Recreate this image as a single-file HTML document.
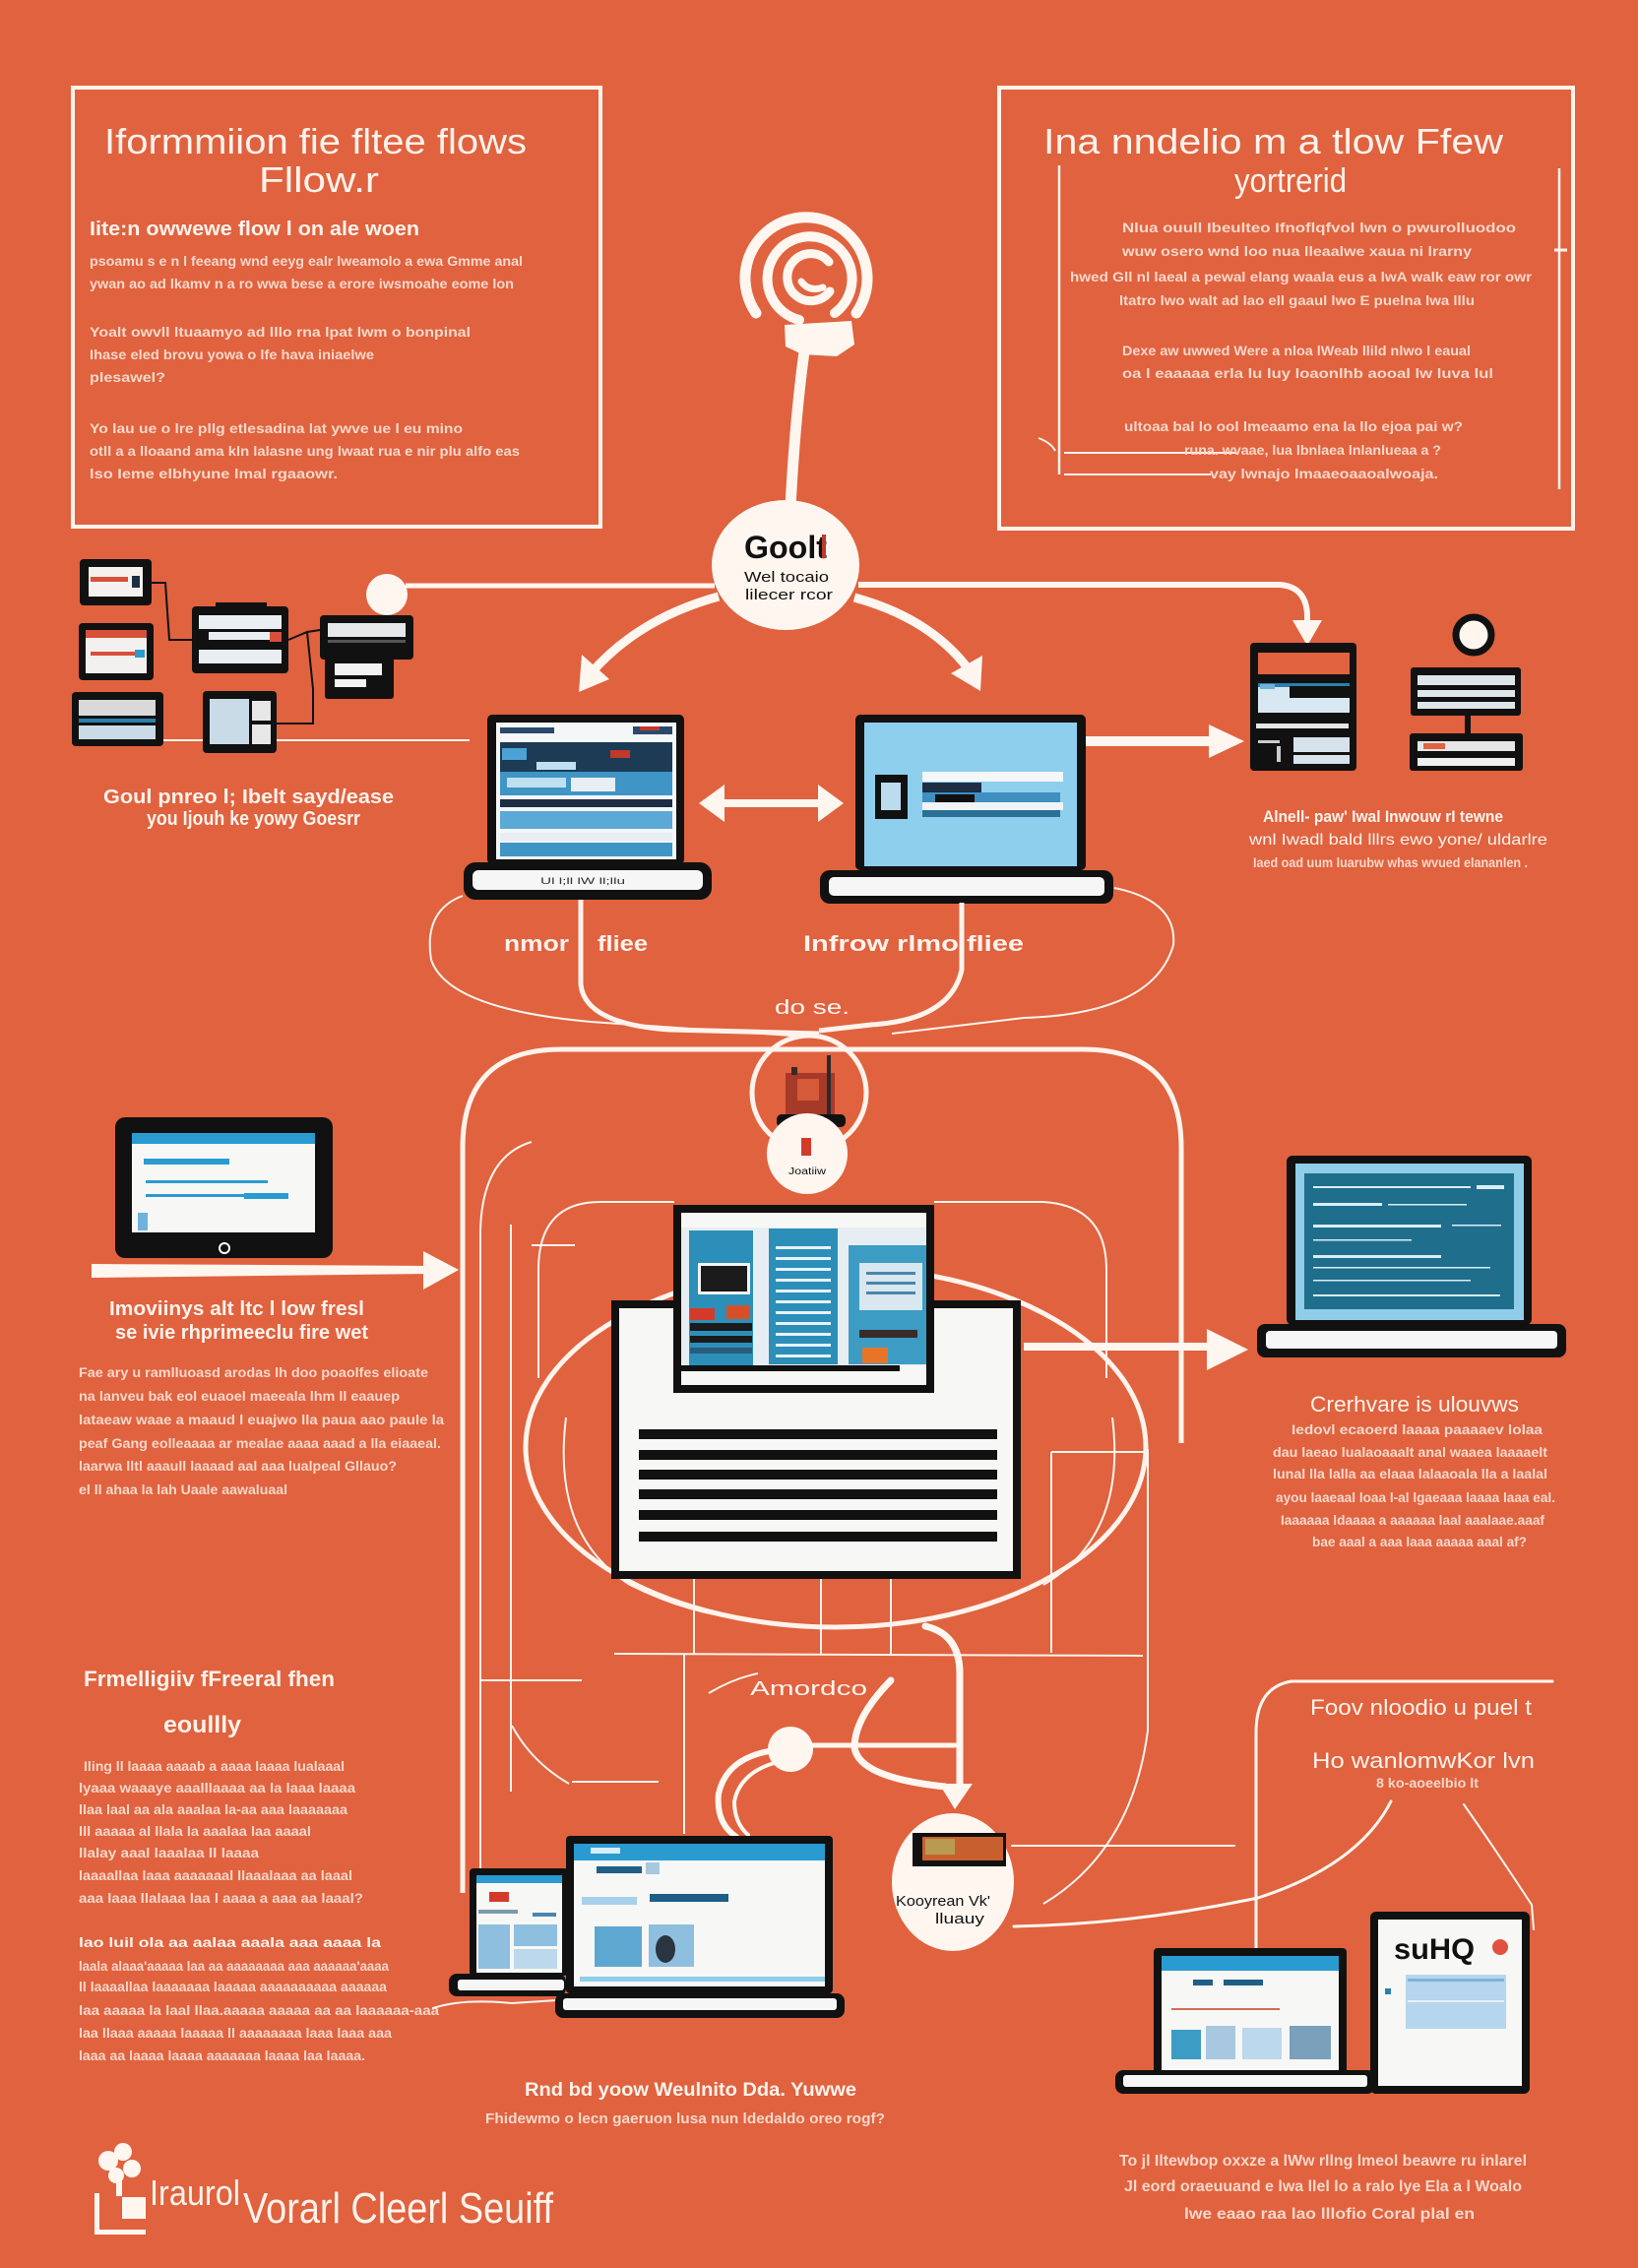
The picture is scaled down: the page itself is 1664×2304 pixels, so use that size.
<!DOCTYPE html>
<html><head><meta charset="utf-8"><style>
html,body{margin:0;padding:0;background:#E0623F;}
svg{display:block;}
text{font-family:"Liberation Sans",sans-serif;}
.t{fill:#FFF3EC;}
.p{fill:#F8D8CA;font-weight:bold;}
.k{fill:#111;}
</style></head><body>
<svg width="1664" height="2304" viewBox="0 0 1664 2304" xmlns="http://www.w3.org/2000/svg">
<rect x="0" y="0" width="1664" height="2304" fill="#E0623F"/>

<!-- ===== LEFT TOP BOX ===== -->
<rect x="74" y="89" width="536" height="446" fill="none" stroke="#FFF3EC" stroke-width="4"/>
<text class="t" x="106" y="156" font-size="36" textLength="429" lengthAdjust="spacingAndGlyphs">Iformmiion fie fltee flows</text>
<text class="t" x="263" y="195" font-size="36" textLength="122" lengthAdjust="spacingAndGlyphs">Fllow.r</text>
<text class="t" x="91" y="239" font-size="20" font-weight="bold" textLength="335" lengthAdjust="spacingAndGlyphs">Iite:n owwewe flow l on ale woen</text>
<text class="p" x="91" y="270" font-size="14" textLength="440" lengthAdjust="spacingAndGlyphs">psoamu s e n l feeang wnd eeyg ealr lweamolo a ewa Gmme anal</text>
<text class="p" x="91" y="293" font-size="14" textLength="431" lengthAdjust="spacingAndGlyphs">ywan ao ad lkamv n a ro wwa bese a erore iwsmoahe eome lon</text>
<text class="p" x="91" y="342" font-size="14" textLength="387" lengthAdjust="spacingAndGlyphs">Yoalt owvll ltuaamyo ad lllo rna lpat lwm o bonpinal</text>
<text class="p" x="91" y="365" font-size="14" textLength="289" lengthAdjust="spacingAndGlyphs">Ihase eled brovu yowa o lfe hava iniaelwe</text>
<text class="p" x="91" y="388" font-size="14" textLength="77" lengthAdjust="spacingAndGlyphs">plesawel?</text>
<text class="p" x="91" y="440" font-size="14" textLength="379" lengthAdjust="spacingAndGlyphs">Yo lau ue o lre pllg etlesadina lat ywve ue l eu mino</text>
<text class="p" x="91" y="463" font-size="14" textLength="437" lengthAdjust="spacingAndGlyphs">otll a a lloaand ama kln lalasne ung lwaat rua e nir plu alfo eas</text>
<text class="p" x="91" y="486" font-size="14" textLength="252" lengthAdjust="spacingAndGlyphs">lso Ieme elbhyune lmal rgaaowr.</text>

<!-- ===== RIGHT TOP BOX ===== -->
<rect x="1015" y="89" width="583" height="448" fill="none" stroke="#FFF3EC" stroke-width="4"/>
<text class="t" x="1060" y="156" font-size="36" textLength="467" lengthAdjust="spacingAndGlyphs">Ina nndelio m a tlow Ffew</text>
<text class="t" x="1254" y="195" font-size="34" textLength="114" lengthAdjust="spacingAndGlyphs">yortrerid</text>
<line x1="1076" y1="168" x2="1076" y2="482" stroke="#FFF3EC" stroke-width="2.5"/>
<line x1="1584" y1="171" x2="1584" y2="497" stroke="#FFF3EC" stroke-width="2.5"/>
<line x1="1579" y1="254" x2="1592" y2="254" stroke="#FFF3EC" stroke-width="3"/>
<line x1="1081" y1="460" x2="1256" y2="460" stroke="#FFF3EC" stroke-width="2"/>
<line x1="1081" y1="482" x2="1230" y2="482" stroke="#FFF3EC" stroke-width="2"/>
<path d="M1055 445 Q1068 450 1072 458" fill="none" stroke="#FFF3EC" stroke-width="2"/>
<text class="p" x="1140" y="236" font-size="14" textLength="400" lengthAdjust="spacingAndGlyphs">Nlua ouull Ibeulteo Ifnoflqfvol lwn o pwurolluodoo</text>
<text class="p" x="1140" y="260" font-size="14" textLength="355" lengthAdjust="spacingAndGlyphs">wuw osero wnd loo nua lleaalwe xaua ni lrarny</text>
<text class="p" x="1087" y="286" font-size="14" textLength="469" lengthAdjust="spacingAndGlyphs">hwed Gll nl laeal a pewal elang waala eus a lwA walk eaw ror owr</text>
<text class="p" x="1137" y="310" font-size="14" textLength="361" lengthAdjust="spacingAndGlyphs">ltatro lwo walt ad lao ell gaaul lwo E puelna lwa lllu</text>
<text class="p" x="1140" y="361" font-size="14" textLength="354" lengthAdjust="spacingAndGlyphs">Dexe aw uwwed Were a nloa lWeab llild nlwo l eaual</text>
<text class="p" x="1140" y="384" font-size="14" textLength="377" lengthAdjust="spacingAndGlyphs">oa l eaaaaa erla lu luy loaonlhb aooal lw luva lul</text>
<text class="p" x="1142" y="438" font-size="14" textLength="344" lengthAdjust="spacingAndGlyphs">ultoaa bal lo ool lmeaamo ena la llo ejoa pai w?</text>
<text class="p" x="1203" y="462" font-size="14" textLength="261" lengthAdjust="spacingAndGlyphs">runa. wvaae, lua lbnlaea lnlanlueaa a ?</text>
<text class="p" x="1229" y="486" font-size="14" textLength="232" lengthAdjust="spacingAndGlyphs">vay lwnajo lmaaeoaaoalwoaja.</text>

<!-- ===== TOP CONCENTRIC ICON ===== -->
<g fill="none" stroke="#FFF6F0" stroke-linecap="round">
<path d="M768 318 A62 62 0 1 1 870 318" stroke-width="11"/>
<path d="M812 325 A43 43 0 1 1 848 318" stroke-width="10"/>
<path d="M842 266 A24 24 0 1 0 843 296" stroke-width="9"/>
<path d="M814 286 Q822 297 836 292" stroke-width="7"/>
<path d="M818 350 Q808 420 803 515" stroke-width="11"/>
</g>
<path d="M797 330 L865 326 L868 350 L850 362 L815 360 L798 352 Z" fill="#FFF6F0"/>

<!-- ===== GOO CIRCLE & CONNECTORS ===== -->
<line x1="412" y1="595" x2="726" y2="595" stroke="#FFF6F0" stroke-width="5"/>
<circle cx="393" cy="604" r="21" fill="#FFF6F0"/>
<path d="M872 594 L1300 594 Q1327 596 1328 625 L1328 632" fill="none" stroke="#FFF6F0" stroke-width="6"/>
<polygon points="1313,630 1343,630 1328,656" fill="#FFF6F0"/>
<path d="M730 606 Q650 628 602 682" fill="none" stroke="#FFF6F0" stroke-width="9"/>
<polygon points="588,703 619,690 591,665" fill="#FFF6F0"/>
<path d="M868 607 Q945 628 984 680" fill="none" stroke="#FFF6F0" stroke-width="9"/>
<polygon points="996,702 998,666 966,684" fill="#FFF6F0"/>
<ellipse cx="798" cy="574" rx="75" ry="66" fill="#FFF6F0"/>
<text class="k" x="756" y="567" font-size="32" font-weight="bold" textLength="84" lengthAdjust="spacingAndGlyphs">Goolt</text>
<rect x="835" y="543" width="4" height="24" fill="#c0392b"/>
<text class="k" x="756" y="591" font-size="15" textLength="86" lengthAdjust="spacingAndGlyphs">Wel tocaio</text>
<text class="k" x="757" y="609" font-size="15" textLength="89" lengthAdjust="spacingAndGlyphs">lilecer rcor</text>

<!-- ===== TOP LEFT DEVICE CLUSTER ===== -->
<g>
<line x1="164" y1="752" x2="477" y2="752" stroke="#FFF3EC" stroke-width="2"/>
<path d="M154 592 L168 592 L172 650 L196 650" fill="none" stroke="#111" stroke-width="2"/>
<path d="M293 650 L312 642 L318 700 L318 735 L281 735" fill="none" stroke="#111" stroke-width="2"/>
<path d="M325 640 L312 642" fill="none" stroke="#111" stroke-width="2"/>
<rect x="81" y="568" width="73" height="47" rx="4" fill="#111"/>
<rect x="90" y="576" width="55" height="30" fill="#f4f1ee"/>
<rect x="92" y="586" width="38" height="5" fill="#d8503a"/>
<rect x="134" y="585" width="8" height="12" fill="#1d2d44"/>
<rect x="80" y="633" width="76" height="58" rx="4" fill="#111"/>
<rect x="87" y="640" width="62" height="44" fill="#f3f1ef"/>
<rect x="87" y="640" width="62" height="8" fill="#d8503a"/>
<rect x="92" y="662" width="45" height="4" fill="#d8503a"/>
<rect x="137" y="660" width="10" height="8" fill="#2a9bd1"/>
<rect x="73" y="703" width="93" height="55" rx="4" fill="#111"/>
<rect x="80" y="711" width="78" height="16" fill="#d9d9d9"/>
<rect x="80" y="730" width="78" height="4" fill="#2a7fb0"/>
<rect x="80" y="737" width="78" height="14" fill="#c9dbe6"/>
<rect x="195" y="616" width="98" height="68" rx="4" fill="#111"/>
<rect x="219" y="612" width="52" height="8" fill="#111"/>
<rect x="202" y="625" width="84" height="14" fill="#e9eef2"/>
<rect x="212" y="642" width="62" height="8" fill="#e9eef2"/>
<rect x="274" y="642" width="12" height="10" fill="#d8503a"/>
<rect x="202" y="660" width="84" height="14" fill="#e9eef2"/>
<rect x="325" y="625" width="95" height="45" rx="4" fill="#111"/>
<rect x="333" y="633" width="79" height="14" fill="#e5e8ea"/>
<rect x="333" y="650" width="79" height="3" fill="#555"/>
<rect x="330" y="668" width="70" height="42" rx="3" fill="#111"/>
<rect x="340" y="674" width="48" height="12" fill="#f3f3f3"/>
<rect x="340" y="690" width="32" height="8" fill="#f3f3f3"/>
<rect x="206" y="702" width="75" height="63" rx="4" fill="#111"/>
<rect x="213" y="710" width="40" height="46" fill="#c9dbe6"/>
<rect x="256" y="712" width="19" height="20" fill="#e7e7e7"/>
<rect x="256" y="736" width="19" height="20" fill="#e7e7e7"/>
</g>
<text class="t" x="105" y="816" font-size="20" font-weight="bold" textLength="295" lengthAdjust="spacingAndGlyphs">Goul pnreo l; Ibelt sayd/ease</text>
<text class="t" x="149" y="838" font-size="20" font-weight="bold" textLength="217" lengthAdjust="spacingAndGlyphs">you Ijouh ke yowy Goesrr</text>

<!-- ===== LAPTOP A ===== -->
<rect x="495" y="726" width="200" height="152" rx="5" fill="#111"/>
<rect x="504" y="734" width="183" height="139" fill="#f4f6f8"/>
<rect x="508" y="739" width="55" height="6" fill="#2b4a6b"/>
<rect x="643" y="738" width="40" height="8" fill="#2b4a6b"/>
<rect x="650" y="738" width="20" height="4" fill="#c0392b"/>
<rect x="508" y="754" width="175" height="30" fill="#1d3b55"/>
<rect x="510" y="760" width="25" height="12" fill="#4aa3d4"/>
<rect x="545" y="774" width="40" height="8" fill="#bfe0f1"/>
<rect x="620" y="762" width="20" height="8" fill="#c0392b"/>
<rect x="508" y="784" width="175" height="24" fill="#3f95c5"/>
<rect x="515" y="790" width="60" height="10" fill="#bfe0f1"/>
<rect x="580" y="790" width="45" height="14" fill="#e9eef2"/>
<rect x="508" y="812" width="175" height="8" fill="#1d2d44"/>
<rect x="508" y="824" width="175" height="18" fill="#5aa9d6"/>
<rect x="508" y="846" width="175" height="8" fill="#e9eef2"/>
<rect x="508" y="856" width="175" height="14" fill="#3f95c5"/>
<rect x="471" y="876" width="252" height="38" rx="12" fill="#111"/>
<rect x="480" y="884" width="234" height="20" rx="6" fill="#f6f6f6"/>
<text x="549" y="898" font-size="9" fill="#333" textLength="86" lengthAdjust="spacingAndGlyphs">Ul l;ll lW ll;llu</text>

<!-- ===== LAPTOP B ===== -->
<rect x="869" y="726" width="234" height="158" rx="5" fill="#111"/>
<rect x="878" y="734" width="216" height="146" fill="#8ECFEE"/>
<rect x="889" y="787" width="33" height="45" fill="#111"/>
<rect x="895" y="795" width="20" height="28" fill="#bcdcee"/>
<rect x="937" y="784" width="143" height="10" fill="#f4f6f8"/>
<rect x="937" y="795" width="60" height="10" fill="#1d2d44"/>
<rect x="937" y="805" width="140" height="10" fill="#3f8fc0"/>
<rect x="950" y="807" width="40" height="8" fill="#111"/>
<rect x="937" y="815" width="143" height="8" fill="#f0f4f6"/>
<rect x="937" y="823" width="140" height="7" fill="#2b6f96"/>
<rect x="833" y="884" width="298" height="34" rx="10" fill="#111"/>
<rect x="842" y="891" width="280" height="19" rx="5" fill="#f6f6f6"/>

<!-- double arrow -->
<line x1="730" y1="816" x2="836" y2="816" stroke="#FFF6F0" stroke-width="8"/>
<polygon points="710,816 736,797 736,835" fill="#FFF6F0"/>
<polygon points="857,816 831,797 831,835" fill="#FFF6F0"/>
<!-- arrow to server -->
<line x1="1103" y1="753" x2="1236" y2="753" stroke="#FFF6F0" stroke-width="10"/>
<polygon points="1264,753 1228,736 1228,770" fill="#FFF6F0"/>

<!-- ===== SERVERS ===== -->
<rect x="1270" y="653" width="108" height="130" rx="4" fill="#111"/>
<rect x="1278" y="663" width="93" height="22" fill="#E0623F"/>
<rect x="1278" y="694" width="93" height="4" fill="#2a7fb0"/>
<rect x="1278" y="698" width="93" height="26" fill="#d7e8f2"/>
<rect x="1310" y="697" width="61" height="12" fill="#111"/>
<rect x="1280" y="695" width="15" height="5" fill="#6fb3dc"/>
<rect x="1276" y="735" width="94" height="5" fill="#e6e6e6"/>
<rect x="1314" y="749" width="57" height="15" fill="#d7e3ec"/>
<rect x="1314" y="767" width="57" height="9" fill="#d7e3ec"/>
<rect x="1278" y="752" width="22" height="3" fill="#ccc"/>
<rect x="1297" y="758" width="4" height="16" fill="#ccc"/>
<circle cx="1497" cy="645" r="18" fill="#FFF6F0" stroke="#111" stroke-width="7"/>
<rect x="1433" y="678" width="112" height="49" rx="3" fill="#111"/>
<rect x="1440" y="686" width="99" height="10" fill="#dfe6ea"/>
<rect x="1440" y="701" width="99" height="7" fill="#dfe6ea"/>
<rect x="1440" y="713" width="99" height="7" fill="#dfe6ea"/>
<rect x="1488" y="726" width="6" height="20" fill="#111"/>
<rect x="1432" y="745" width="115" height="38" rx="3" fill="#111"/>
<rect x="1440" y="753" width="99" height="10" fill="#e6e6e6"/>
<rect x="1446" y="755" width="22" height="6" fill="#e0623f"/>
<rect x="1440" y="770" width="99" height="8" fill="#f0f0f0"/>

<text class="t" x="1283" y="835" font-size="17" font-weight="bold" textLength="244" lengthAdjust="spacingAndGlyphs">Alnell- paw' Iwal Inwouw rI tewne</text>
<text class="t" x="1269" y="858" font-size="16" textLength="303" lengthAdjust="spacingAndGlyphs">wnl Iwadl bald  lllrs ewo yone/ uldarlre</text>
<text class="p" x="1273" y="881" font-size="14" textLength="279" lengthAdjust="spacingAndGlyphs">Iaed oad uum luarubw whas wvued elananlen .</text>

<!-- ===== LAPTOP LABELS & LOOPS ===== -->
<g fill="none" stroke="#FFF3EC">
<path d="M590 914 L590 1000 Q594 1040 680 1046 L832 1050" stroke-width="5"/>
<path d="M977 917 L977 985 Q966 1036 885 1041 L832 1047" stroke-width="5"/>
<path d="M470 910 Q430 925 438 975 Q455 1025 600 1038 L832 1054" stroke-width="2"/>
<path d="M1132 902 Q1196 915 1192 960 Q1172 1030 1040 1034 L906 1050" stroke-width="2"/>
</g>
<text class="t" x="512" y="966" font-size="22" font-weight="bold" textLength="66" lengthAdjust="spacingAndGlyphs">nmor</text>
<text class="t" x="607" y="966" font-size="22" font-weight="bold" textLength="51" lengthAdjust="spacingAndGlyphs">fliee</text>
<text class="t" x="816" y="966" font-size="22" font-weight="bold" textLength="224" lengthAdjust="spacingAndGlyphs">Infrow rlmo fliee</text>
<text class="t" x="787" y="1030" font-size="20" textLength="76" lengthAdjust="spacingAndGlyphs">do se.</text>

<!-- ===== BIG FRAME & SKETCH LINES ===== -->
<g fill="none" stroke="#FFF3EC">
<path d="M470 1923 L470 1166 Q470 1066 570 1066 L1100 1066 Q1200 1066 1200 1166 L1200 1466" stroke-width="5"/>
<path d="M488 1900 L488 1250 Q490 1175 540 1160" stroke-width="2"/>
<path d="M519 1820 L519 1244" stroke-width="2"/>
<path d="M547 1400 L547 1290 Q547 1221 610 1221 L685 1221" stroke-width="2"/>
<path d="M949 1221 L1060 1221 Q1124 1225 1124 1290 L1124 1400" stroke-width="2"/>
<path d="M584 1265 L540 1265" stroke-width="2"/>
<ellipse cx="849" cy="1470" rx="315" ry="183" stroke-width="5"/>
<path d="M575 1440 Q560 1560 640 1610 Q700 1640 760 1645" stroke-width="2"/>
<path d="M1130 1440 Q1145 1560 1060 1610" stroke-width="2"/>
<path d="M705 1604 L705 1680" stroke-width="2"/>
<path d="M834 1604 L834 1680" stroke-width="2"/>
<path d="M905 1604 L905 1680" stroke-width="2"/>
<path d="M624 1680 L1161 1682" stroke-width="2"/>
<path d="M489 1707 L591 1707" stroke-width="2"/>
<path d="M581 1810 L669 1810" stroke-width="2"/>
<path d="M695 1680 L695 1863" stroke-width="2"/>
<path d="M520 1753 Q540 1790 578 1812" stroke-width="2"/>
<path d="M1068 1475 L1166 1475 M1166 1472 L1166 1758 Q1150 1880 1060 1934" stroke-width="2"/>
<path d="M1068 1475 L1068 1679" stroke-width="2"/>
<path d="M720 1720 Q745 1705 770 1700" stroke-width="2"/>
</g>

<!-- top small circle -->
<circle cx="822" cy="1110" r="58" fill="none" stroke="#FFF3EC" stroke-width="5"/>
<rect x="798" y="1090" width="50" height="44" fill="#a63a28"/>
<rect x="804" y="1084" width="6" height="8" fill="#3a2a22"/>
<rect x="840" y="1072" width="4" height="62" fill="#2a2a2a"/>
<rect x="810" y="1096" width="22" height="22" fill="#d45a3a"/>
<rect x="789" y="1132" width="70" height="13" rx="5" fill="#111"/>
<circle cx="820" cy="1172" r="41" fill="#FFF6F0"/>
<rect x="814" y="1156" width="10" height="18" fill="#d43a2a"/>
<text class="k" x="801" y="1193" font-size="10" textLength="38" lengthAdjust="spacingAndGlyphs">Joatiiw</text>

<!-- ===== MAIN DOCUMENT ===== -->
<rect x="625" y="1325" width="408" height="275" fill="#F7F7F5" stroke="#111" stroke-width="8"/>
<rect x="688" y="1228" width="257" height="183" fill="#F7F7F5" stroke="#111" stroke-width="8"/>
<rect x="692" y="1247" width="249" height="140" fill="#e6eef3"/>
<rect x="700" y="1250" width="65" height="137" fill="#2b8fba"/>
<rect x="709" y="1283" width="53" height="32" fill="#f4f4f4"/>
<rect x="712" y="1286" width="47" height="26" fill="#1b1b1b"/>
<rect x="701" y="1329" width="25" height="12" fill="#d43a2a"/>
<rect x="738" y="1326" width="24" height="14" fill="#d8502a"/>
<rect x="701" y="1344" width="63" height="8" fill="#1b1b1b"/>
<rect x="701" y="1357" width="63" height="7" fill="#1b1b1b"/>
<rect x="701" y="1369" width="63" height="6" fill="#2a5b7b"/>
<rect x="781" y="1248" width="70" height="138" fill="#2b8fba"/>
<g fill="#e8f2f7">
<rect x="788" y="1266" width="56" height="3"/><rect x="788" y="1277" width="56" height="3"/>
<rect x="788" y="1288" width="56" height="3"/><rect x="788" y="1299" width="56" height="3"/>
<rect x="788" y="1310" width="56" height="3"/><rect x="788" y="1321" width="56" height="3"/>
<rect x="788" y="1332" width="56" height="3"/><rect x="788" y="1343" width="56" height="3"/>
<rect x="788" y="1354" width="56" height="3"/><rect x="788" y="1365" width="56" height="3"/>
<rect x="788" y="1376" width="56" height="3"/>
</g>
<rect x="862" y="1265" width="79" height="121" fill="#3d9cc4"/>
<rect x="873" y="1283" width="64" height="48" fill="#d8e7f0"/>
<rect x="880" y="1292" width="50" height="3" fill="#4a86ad"/>
<rect x="880" y="1302" width="50" height="3" fill="#4a86ad"/>
<rect x="880" y="1312" width="50" height="3" fill="#4a86ad"/>
<rect x="873" y="1351" width="59" height="8" fill="#3a2a2a"/>
<rect x="876" y="1369" width="26" height="16" fill="#e8742a"/>
<rect x="692" y="1387" width="222" height="6" fill="#111"/>
<g fill="#111">
<rect x="649" y="1452" width="364" height="10"/>
<rect x="649" y="1473" width="364" height="10"/>
<rect x="649" y="1493" width="364" height="10"/>
<rect x="649" y="1513" width="364" height="10"/>
<rect x="649" y="1534" width="364" height="10"/>
<rect x="649" y="1556" width="364" height="10"/>
</g>

<!-- ===== LEFT TABLET ===== -->
<rect x="117" y="1135" width="221" height="143" rx="10" fill="#111"/>
<rect x="134" y="1151" width="186" height="101" fill="#F7F7F5"/>
<rect x="134" y="1151" width="186" height="11" fill="#2a9bd1"/>
<rect x="146" y="1177" width="87" height="6" fill="#2a9bd1"/>
<rect x="148" y="1199" width="124" height="3" fill="#2a9bd1"/>
<rect x="148" y="1213" width="100" height="3" fill="#2a9bd1"/>
<rect x="248" y="1212" width="45" height="6" fill="#2a9bd1"/>
<rect x="140" y="1232" width="10" height="18" fill="#6fb3dc"/>
<circle cx="228" cy="1268" r="5" fill="none" stroke="#fff" stroke-width="2"/>
<path d="M93 1284 L440 1286 L440 1294 L93 1298 Z" fill="#FFF6F0"/>
<polygon points="466,1290 430,1271 430,1310" fill="#FFF6F0"/>
<text class="t" x="111" y="1336" font-size="20" font-weight="bold" textLength="259" lengthAdjust="spacingAndGlyphs">Imoviinys alt ltc l low fresl</text>
<text class="t" x="117" y="1360" font-size="20" font-weight="bold" textLength="257" lengthAdjust="spacingAndGlyphs">se ivie rhprimeeclu fire wet</text>
<text class="p" x="80" y="1399" font-size="14" textLength="355" lengthAdjust="spacingAndGlyphs">Fae ary u ramlluoasd arodas lh doo poaolfes elioate</text>
<text class="p" x="80" y="1423" font-size="14" textLength="326" lengthAdjust="spacingAndGlyphs">na lanveu bak eol euaoel maeeala lhm ll eaauep</text>
<text class="p" x="80" y="1447" font-size="14" textLength="371" lengthAdjust="spacingAndGlyphs">lataeaw waae a maaud l euajwo lla paua aao paule la</text>
<text class="p" x="80" y="1471" font-size="14" textLength="368" lengthAdjust="spacingAndGlyphs">peaf Gang eolleaaaa ar mealae aaaa aaad a lla eiaaeal.</text>
<text class="p" x="80" y="1494" font-size="14" textLength="323" lengthAdjust="spacingAndGlyphs">laarwa lltl aaaull laaaad aal aaa lualpeal Gllauo?</text>
<text class="p" x="80" y="1518" font-size="14" textLength="212" lengthAdjust="spacingAndGlyphs">el ll ahaa la lah Uaale aawaluaal</text>

<!-- ===== RIGHT LAPTOP C ===== -->
<line x1="1040" y1="1368" x2="1232" y2="1368" stroke="#FFF6F0" stroke-width="8"/>
<polygon points="1268,1371 1226,1350 1226,1392" fill="#FFF6F0"/>
<rect x="1307" y="1174" width="249" height="172" rx="6" fill="#111"/>
<rect x="1316" y="1182" width="232" height="159" fill="#8fcde9"/>
<rect x="1325" y="1192" width="213" height="138" fill="#1f6e8c"/>
<g fill="#d8eef8">
<rect x="1334" y="1205" width="160" height="2"/><rect x="1500" y="1204" width="28" height="4"/>
<rect x="1334" y="1222" width="70" height="3"/><rect x="1410" y="1223" width="80" height="1.5"/>
<rect x="1334" y="1244" width="130" height="3"/><rect x="1475" y="1244" width="50" height="1.5"/>
<rect x="1334" y="1259" width="100" height="1.5"/>
<rect x="1334" y="1275" width="130" height="3"/>
<rect x="1334" y="1287" width="180" height="1.5"/>
<rect x="1334" y="1300" width="160" height="1.5"/>
<rect x="1334" y="1315" width="190" height="2"/>
</g>
<rect x="1277" y="1345" width="314" height="34" rx="8" fill="#111"/>
<rect x="1286" y="1352" width="296" height="18" rx="4" fill="#F6F6F6"/>
<text class="t" x="1331" y="1434" font-size="22" textLength="212" lengthAdjust="spacingAndGlyphs">Crerhvare is ulouvws</text>
<text class="p" x="1312" y="1457" font-size="14" textLength="255" lengthAdjust="spacingAndGlyphs">Iedovl ecaoerd laaaa paaaaev lolaa</text>
<text class="p" x="1293" y="1480" font-size="14" textLength="279" lengthAdjust="spacingAndGlyphs">dau laeao lualaoaaalt anal waaea laaaaelt</text>
<text class="p" x="1293" y="1502" font-size="14" textLength="279" lengthAdjust="spacingAndGlyphs">lunal lla lalla aa elaaa lalaaoala lla a laalal</text>
<text class="p" x="1296" y="1526" font-size="14" textLength="284" lengthAdjust="spacingAndGlyphs">ayou laaeaal loaa l-al lgaeaaa laaaa laaa eal.</text>
<text class="p" x="1301" y="1549" font-size="14" textLength="268" lengthAdjust="spacingAndGlyphs">Iaaaaaa ldaaaa a aaaaaa laal aaalaae.aaaf</text>
<text class="p" x="1333" y="1571" font-size="14" textLength="218" lengthAdjust="spacingAndGlyphs">bae aaal a aaa laaa aaaaa aaal af?</text>

<!-- ===== LOWER LEFT TEXT ===== -->
<text class="t" x="85" y="1713" font-size="22" font-weight="bold" textLength="255" lengthAdjust="spacingAndGlyphs">Frmelligiiv fFreeral fhen</text>
<text class="t" x="166" y="1760" font-size="24" font-weight="bold" textLength="79" lengthAdjust="spacingAndGlyphs">eoullly</text>
<text class="p" x="85" y="1799" font-size="14" textLength="265" lengthAdjust="spacingAndGlyphs">Iling ll laaaa aaaab a aaaa laaaa lualaaal</text>
<text class="p" x="80" y="1821" font-size="14" textLength="281" lengthAdjust="spacingAndGlyphs">lyaaa waaaye aaalllaaaa aa la laaa laaaa</text>
<text class="p" x="80" y="1843" font-size="14" textLength="273" lengthAdjust="spacingAndGlyphs">llaa laal aa ala aaalaa la-aa aaa laaaaaaa</text>
<text class="p" x="80" y="1865" font-size="14" textLength="236" lengthAdjust="spacingAndGlyphs">lll aaaaa al llala la aaalaa laa aaaal</text>
<text class="p" x="80" y="1887" font-size="14" textLength="183" lengthAdjust="spacingAndGlyphs">llalay aaal laaalaa ll laaaa</text>
<text class="p" x="80" y="1910" font-size="14" textLength="278" lengthAdjust="spacingAndGlyphs">laaaallaa laaa aaaaaaal llaaalaaa aa laaal</text>
<text class="p" x="80" y="1933" font-size="14" textLength="289" lengthAdjust="spacingAndGlyphs">aaa laaa llalaaa laa l aaaa a aaa aa laaal?</text>
<text class="t" x="80" y="1978" font-size="14" font-weight="bold" textLength="307" lengthAdjust="spacingAndGlyphs">lao luil ola aa aalaa aaala aaa aaaa la</text>
<text class="p" x="80" y="2002" font-size="14" textLength="315" lengthAdjust="spacingAndGlyphs">laala alaaa'aaaaa laa aa aaaaaaaa aaa aaaaaa'aaaa</text>
<text class="p" x="80" y="2023" font-size="14" textLength="313" lengthAdjust="spacingAndGlyphs">ll laaaallaa laaaaaaa laaaaa aaaaaaaaaa aaaaaa</text>
<text class="p" x="80" y="2047" font-size="14" textLength="366" lengthAdjust="spacingAndGlyphs">laa aaaaa la laal llaa.aaaaa aaaaa aa aa laaaaaa-aaa</text>
<text class="p" x="80" y="2070" font-size="14" textLength="318" lengthAdjust="spacingAndGlyphs">laa llaaa aaaaa laaaaa ll aaaaaaaa laaa laaa aaa</text>
<text class="p" x="80" y="2093" font-size="14" textLength="291" lengthAdjust="spacingAndGlyphs">laaa aa laaaa laaaa aaaaaaa laaaa laa laaaa.</text>

<!-- ===== BOTTOM CENTER FLOW ===== -->
<text class="t" x="762" y="1722" font-size="20" textLength="119" lengthAdjust="spacingAndGlyphs">Amordco</text>
<g fill="none" stroke="#FFF6F0" stroke-linecap="round">
<path d="M940 1652 Q975 1660 975 1700 L975 1812" stroke-width="7"/>
<path d="M905 1707 Q868 1745 868 1775 Q872 1806 960 1815" stroke-width="7"/>
<path d="M826 1773 L970 1773" stroke-width="5"/>
<path d="M781 1779 Q738 1787 730 1822 Q727 1852 748 1866" stroke-width="6"/>
<path d="M790 1790 Q752 1800 746 1830 Q746 1852 760 1864" stroke-width="4"/>
<path d="M1030 1957 Q1150 1955 1278 1928 Q1380 1895 1413 1830" stroke-width="3"/>
<path d="M1028 1875 L1254 1875" stroke-width="2"/>
<path d="M1487 1833 Q1520 1880 1556 1935 L1558 1960" stroke-width="2"/>
<path d="M1312 1708 L1577 1708" stroke-width="3"/>
<path d="M1312 1708 Q1276 1714 1276 1760 L1276 1997" stroke-width="3"/>
<path d="M440 2040 Q470 2030 520 2035 L566 2032" stroke-width="2"/>
</g>
<circle cx="803" cy="1777" r="23" fill="#FFF6F0"/>
<polygon points="970,1838 954,1812 988,1812" fill="#FFF6F0"/>
<ellipse cx="968" cy="1912" rx="62" ry="70" fill="#FFF6F0"/>
<rect x="927" y="1862" width="95" height="34" fill="#111"/>
<rect x="937" y="1866" width="82" height="24" fill="#c8602e"/>
<rect x="940" y="1868" width="30" height="16" fill="#b89a50"/>
<text class="k" x="910" y="1936" font-size="15" textLength="96" lengthAdjust="spacingAndGlyphs">Kooyrean Vk'</text>
<text class="k" x="950" y="1954" font-size="15" textLength="50" lengthAdjust="spacingAndGlyphs">lluauy</text>

<!-- bottom left laptops -->
<rect x="477" y="1898" width="100" height="109" rx="4" fill="#111"/>
<rect x="484" y="1905" width="87" height="99" fill="#F7F7F5"/>
<rect x="484" y="1905" width="87" height="8" fill="#2a9bd1"/>
<rect x="497" y="1922" width="20" height="10" fill="#d43a2a"/>
<rect x="486" y="1940" width="40" height="4" fill="#7a9bb0"/>
<rect x="541" y="1943" width="24" height="4" fill="#4a86ad"/>
<rect x="486" y="1955" width="32" height="45" fill="#8fbfde"/>
<rect x="522" y="1955" width="44" height="22" fill="#8fbfde"/>
<rect x="522" y="1980" width="44" height="20" fill="#bcd8ec"/>
<rect x="456" y="2005" width="119" height="23" rx="8" fill="#111"/>
<rect x="465" y="2011" width="108" height="11" rx="3" fill="#F6F6F6"/>
<rect x="575" y="1865" width="271" height="160" rx="4" fill="#111"/>
<rect x="583" y="1873" width="255" height="145" fill="#F7F7F5"/>
<rect x="583" y="1873" width="255" height="17" fill="#2a9bd1"/>
<rect x="600" y="1877" width="30" height="6" fill="#d8eef8"/>
<rect x="606" y="1896" width="46" height="7" fill="#1f5f86"/>
<rect x="656" y="1892" width="14" height="12" fill="#a8c8e0"/>
<rect x="591" y="1927" width="56" height="8" fill="#a8d0ea"/>
<rect x="660" y="1924" width="80" height="8" fill="#1f5f86"/>
<rect x="604" y="1957" width="48" height="41" fill="#5ea7d1"/>
<rect x="659" y="1955" width="46" height="43" fill="#8fbfde"/>
<ellipse cx="676" cy="1980" rx="10" ry="14" fill="#2a3540"/>
<rect x="589" y="2008" width="249" height="5" fill="#8fcde9"/>
<rect x="564" y="2025" width="294" height="25" rx="8" fill="#111"/>
<rect x="572" y="2030" width="278" height="12" rx="3" fill="#F6F6F6"/>

<text class="t" x="533" y="2129" font-size="19" font-weight="bold" textLength="337" lengthAdjust="spacingAndGlyphs">Rnd bd yoow Weulnito Dda. Yuwwe</text>
<text class="p" x="493" y="2157" font-size="15" textLength="406" lengthAdjust="spacingAndGlyphs">Fhidewmo o lecn gaeruon lusa nun ldedaldo oreo rogf?</text>

<!-- ===== BOTTOM RIGHT ===== -->
<text class="t" x="1331" y="1742" font-size="22" textLength="225" lengthAdjust="spacingAndGlyphs">Foov nloodio u puel t</text>
<text class="t" x="1333" y="1796" font-size="22" textLength="226" lengthAdjust="spacingAndGlyphs">Ho wanlomwKor lvn</text>
<text class="p" x="1398" y="1816" font-size="14" textLength="104" lengthAdjust="spacingAndGlyphs">8 ko-aoeelbio lt</text>
<rect x="1172" y="1979" width="196" height="128" rx="4" fill="#111"/>
<rect x="1180" y="1987" width="180" height="116" fill="#F7F7F5"/>
<rect x="1180" y="1987" width="180" height="15" fill="#2a9bd1"/>
<rect x="1212" y="2011" width="20" height="6" fill="#1f5f86"/>
<rect x="1243" y="2011" width="40" height="6" fill="#1f5f86"/>
<rect x="1190" y="2062" width="30" height="30" fill="#3d9cc4"/>
<rect x="1225" y="2058" width="30" height="34" fill="#a8c8e0"/>
<rect x="1262" y="2060" width="40" height="32" fill="#bcd8ec"/>
<rect x="1310" y="2058" width="42" height="34" fill="#7aa0bb"/>
<rect x="1190" y="2040" width="110" height="2" fill="#d46a5a"/>
<rect x="1133" y="2103" width="264" height="24" rx="8" fill="#111"/>
<rect x="1141" y="2108" width="248" height="12" rx="3" fill="#F6F6F6"/>
<rect x="1392" y="1942" width="162" height="185" rx="6" fill="#111"/>
<rect x="1400" y="1950" width="146" height="169" fill="#F7F7F5"/>
<text class="k" x="1416" y="1990" font-size="30" font-weight="bold" textLength="82" lengthAdjust="spacingAndGlyphs">suHQ</text>
<circle cx="1524" cy="1978" r="8" fill="#e0523f"/>
<rect x="1428" y="2006" width="102" height="55" fill="#b5d6ee"/>
<rect x="1430" y="2010" width="98" height="3" fill="#7fb3d8"/>
<rect x="1430" y="2032" width="98" height="2" fill="#e8f2f7"/>
<rect x="1407" y="2020" width="6" height="6" fill="#2a7fb0"/>
<text class="p" x="1137" y="2200" font-size="16" textLength="414" lengthAdjust="spacingAndGlyphs">To jl Iltewbop oxxze a lWw rllng lmeol beawre ru inlarel</text>
<text class="p" x="1142" y="2226" font-size="16" textLength="404" lengthAdjust="spacingAndGlyphs">Jl eord oraeuuand e lwa llel lo a ralo lye Ela a l Woalo</text>
<text class="p" x="1203" y="2254" font-size="16" textLength="295" lengthAdjust="spacingAndGlyphs">lwe eaao raa lao lllofio Coral plal en</text>

<!-- ===== FOOTER LOGO ===== -->
<g fill="#FFF6F0">
<circle cx="110" cy="2195" r="10"/><circle cx="125" cy="2186" r="9"/><circle cx="134" cy="2203" r="9"/>
<circle cx="118" cy="2210" r="8"/>
<rect x="118" y="2205" width="6" height="26"/>
<rect x="96" y="2228" width="5" height="42"/>
<rect x="96" y="2265" width="52" height="5"/>
<rect x="124" y="2232" width="24" height="22"/>
</g>
<text class="t" x="152" y="2240" font-size="36" textLength="92" lengthAdjust="spacingAndGlyphs">Iraurol</text>
<text class="t" x="247" y="2258" font-size="44" textLength="315" lengthAdjust="spacingAndGlyphs">Vorarl Cleerl Seuiff</text>
</svg>
</body></html>
